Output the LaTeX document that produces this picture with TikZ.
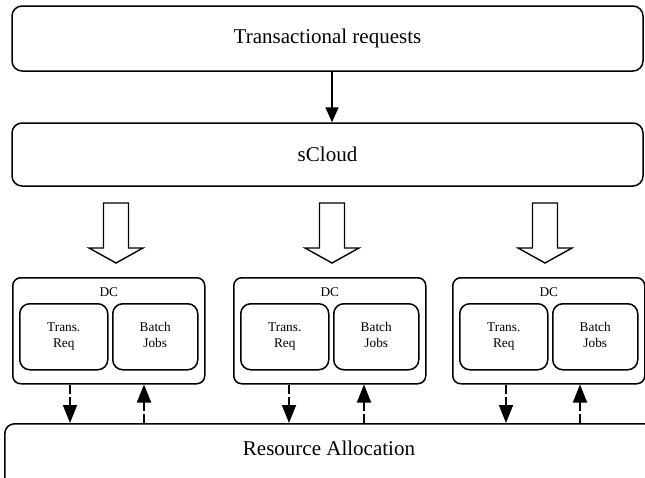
\documentclass[tikz,border=0pt]{standalone}
\usepackage{fontspec}
\setmainfont{Liberation Serif}
\usetikzlibrary{arrows.meta,calc}
\begin{document}
\begin{tikzpicture}[x=1pt,y=-1pt,
  bigbox/.style={draw, line width=1.5pt, rounded corners=10pt, minimum width=631pt, inner sep=0pt, font=\fontsize{21}{25}\selectfont},
  dcbox/.style={draw, line width=1.5pt, rounded corners=8pt, minimum width=192pt, minimum height=106pt, anchor=north west, inner sep=0pt},
  inbox/.style={draw, line width=1.5pt, rounded corners=10pt, minimum height=66pt, anchor=north west, align=center, inner sep=0pt, font=\fontsize{13.3}{16}\selectfont},
  smalltext/.style={font=\fontsize{13.3}{16}\selectfont, inner sep=0pt},
  bigtext/.style={font=\fontsize{21}{25}\selectfont, inner sep=0pt},
  solidarrow/.style={line width=1.6pt, -{Triangle[length=15pt,width=13pt]}},
  dasharrow/.style={line width=1.8pt, dash pattern=on 9pt off 3pt, -{Triangle[length=18pt,width=14pt]}},
  hollow/.style={draw, line width=1.4pt, line join=miter, fill=white}
]
\useasboundingbox (0,0) rectangle (645,477);

% top boxes
\node[bigbox, minimum height=65pt] (top) at (327.5,38.5) {Transactional requests};
\node[bigbox, minimum height=63pt] (scloud) at (327.5,154.5) {sCloud};
\draw[solidarrow] ([xshift=4.5pt]top.south) -- ([xshift=4.5pt]scloud.north);

% hollow arrows
\foreach \n/\x in {h1/116, h2/332, h3/545} {
  \coordinate (\n) at (\x,203);
  \draw[hollow] (\n) ++(-12.5,0) -- ++(0,45) -- ++(-14.5,0) -- ++(27,15) -- ++(27,-15) -- ++(-14.5,0) -- ++(0,-45) -- cycle;
}

% resource allocation
\node[draw, line width=1.5pt, rounded corners=10pt, anchor=north west, minimum width=700pt, minimum height=100pt, inner sep=0pt] (ra) at (4,423) {};
\node[bigtext] (ratext) at (329,448) {Resource Allocation};

% DC boxes
\foreach \i/\x/\dn/\up in {1/12/70/144, 2/233/289/364, 3/452/506/580} {
  \node[dcbox] (dc\i) at (\x,277) {};
  \node[smalltext] (dcl\i) at ($(dc\i.north)+(0,15)$) {DC};
  \node[inbox, minimum width=88pt] (tr\i) at ($(dc\i.north west)+(7,26)$) {Trans.\strut\\Req\strut};
  \node[inbox, minimum width=85pt] (bj\i) at ($(dc\i.north west)+(100,26)$) {Batch\strut\\Jobs\strut};
  \coordinate (dn\i) at (\dn,0);
  \coordinate (up\i) at (\up,0);
  \draw[dasharrow] (dn\i |- dc\i.south) -- (dn\i |- ra.north);
  \draw[dasharrow] (up\i |- ra.north) -- (up\i |- dc\i.south);
}
\end{tikzpicture}
\end{document}
